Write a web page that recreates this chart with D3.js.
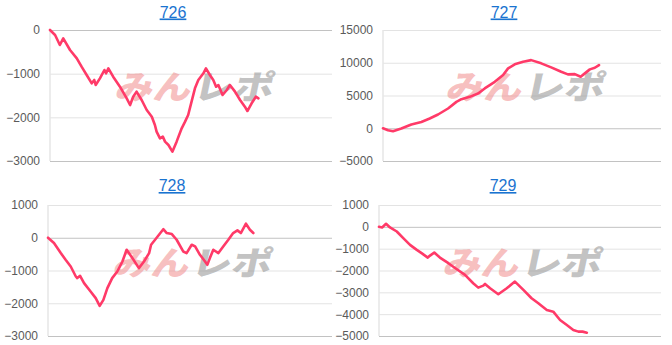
<!DOCTYPE html>
<html><head><meta charset="utf-8">
<script src="https://cdn.jsdelivr.net/npm/d3@7/dist/d3.min.js"></script>
<style>
html,body{margin:0;padding:0;background:#fff;}
svg{display:block;}
</style></head>
<body>
<svg id="c" width="672" height="345"></svg>
<script>
// ---- data ----
const titles = ["726", "727", "728", "729"];

// x = position along the play axis (0..100), y = cumulative difference
const x726 = [0,1.8,3.5,4.7,7.1,9.5,11.2,13.0,14.8,15.7,16.2,17.7,19.3,19.9,20.7,22.4,24.8,27.2,28.4,29.5,30.7,32.5,34.3,36.1,37.2,37.8,39.0,40.0,40.8,42.0,43.4,44.9,46.7,47.9,49.0,50.2,51.4,52.6,54.4,55.3,56.7,57.9,58.9,59.7,61.2,62.7,63.8,65.6,67.4,69.1,70.0,71.5,73.0,73.9];
const y726 = [0,-115,-343,-191,-458,-649,-840,-1030,-1221,-1145,-1260,-1107,-916,-992,-878,-1069,-1298,-1565,-1718,-1527,-1412,-1603,-1832,-1985,-2175,-2328,-2480,-2442,-2557,-2634,-2786,-2557,-2252,-2099,-1946,-1641,-1336,-1145,-992,-878,-1030,-1145,-1298,-1260,-1489,-1374,-1260,-1412,-1603,-1756,-1855,-1679,-1527,-1565];

const x727 = [0,1.8,3.6,6.6,10.2,13.8,16.8,19.8,23.4,26.4,28.2,31.2,34.2,36.6,40.2,43.2,45.0,47.4,50.4,53.3,56.9,60.5,64.1,66.5,69.0,71.1,72.6,74.4,76.2,77.7];
const y727 = [0,-306,-459,-46,566,965,1485,2098,3016,4027,4441,4793,5314,6079,7090,8116,9142,9755,10153,10400,9908,9296,8622,8224,8270,7856,8377,8989,9234,9648];

const x728 = [0,2.1,4.5,6.2,8.0,9.8,10.3,11.3,12.7,15.0,16.8,18.2,19.5,20.9,22.6,24.4,26.2,27.7,29.7,32.0,33.8,35.6,36.3,37.7,40.6,41.8,43.6,45.3,47.6,48.8,50.6,51.8,53.5,55.3,56.1,57.0,58.2,60.0,61.7,63.5,65.2,66.7,67.9,69.7,71.1,72.3];
const y728 = [0,-162,-468,-673,-878,-1183,-1232,-1162,-1386,-1642,-1844,-2080,-1896,-1539,-1232,-1030,-725,-367,-621,-927,-725,-468,-214,-60,260,144,113,-61,-419,-468,-214,-266,-520,-725,-826,-621,-367,-468,-266,-61,144,225,144,428,245,144];

const x729 = [0,1.1,2.5,3.9,6.3,8.6,11.0,13.4,15.1,17.3,18.1,19.6,21.6,24.6,27.6,30.5,33.4,35.2,37.0,37.6,39.4,42.3,45.3,48.2,51.2,54.1,56.5,59.5,61.8,64.2,66.6,68.9,70.7,72.2,73.7];
const y729 = [0,-30,138,-30,-214,-520,-826,-1055,-1206,-1408,-1316,-1179,-1408,-1665,-1940,-2202,-2583,-2785,-2693,-2615,-2812,-3087,-2812,-2509,-2890,-3270,-3500,-3807,-3885,-4266,-4495,-4725,-4800,-4800,-4850];

const ticks726 = [0, -1000, -2000, -3000];
const ticks727 = [15000, 10000, 5000, 0, -5000];
const ticks728 = [1000, 0, -1000, -2000, -3000];
const ticks729 = [1000, 0, -1000, -2000, -3000, -4000, -5000];

const watermarkPink = "みん";
const watermarkGray = "レポ";

// ---- layout ----
const panels = [
  {title: titles[0], xs: x726, ys: y726, ticks: ticks726, L: 50,  R: 332, T: 30,  B: 161, tx: 173, ty: 17.5, wx: 110, wy: 72},
  {title: titles[1], xs: x727, ys: y727, ticks: ticks727, L: 383, R: 661, T: 30,  B: 161, tx: 504, ty: 17.5, wx: 441, wy: 72},
  {title: titles[2], xs: x728, ys: y728, ticks: ticks728, L: 48,  R: 332, T: 205, B: 336, tx: 172, ty: 191, wx: 108, wy: 248},
  {title: titles[3], xs: x729, ys: y729, ticks: ticks729, L: 379, R: 661, T: 205, B: 336, tx: 503, ty: 191, wx: 438, wy: 248}
];

const svg = d3.select("#c");
const font = "'Liberation Sans', Arial, sans-serif";

panels.forEach(p => {
  const g = svg.append("g");
  const x = d3.scaleLinear().domain([0, 100]).range([p.L, p.R]);
  const y = d3.scaleLinear().domain([d3.min(p.ticks), d3.max(p.ticks)]).range([p.B, p.T]);

  // title
  g.append("text")
    .attr("x", p.tx).attr("y", p.ty)
    .attr("text-anchor", "middle")
    .attr("font-family", font).attr("font-size", 16)
    .attr("fill", "#1a73d0")
    .attr("text-decoration", "underline")
    .text(p.title);

  // axis with gridlines
  const ax = g.append("g")
    .attr("transform", `translate(${p.L},0)`)
    .call(d3.axisLeft(y).tickValues(p.ticks).tickSize(-(p.R - p.L)).tickPadding(10).tickFormat(d3.format("d")));
  ax.select(".domain").remove();
  ax.selectAll(".tick line")
    .attr("stroke", d => (d === 0 || d === d3.min(p.ticks)) ? "#c2c2c2" : "#e3e3e3")
    .attr("stroke-width", 1);
  ax.selectAll(".tick text")
    .attr("font-family", font).attr("font-size", 12)
    .attr("fill", "#5a5a5a");

  // left vertical axis line
  g.append("line")
    .attr("x1", p.L).attr("x2", p.L)
    .attr("y1", p.T).attr("y2", p.B)
    .attr("stroke", "#e6e6e6").attr("stroke-width", 1.5);

  // watermark
  const wm = g.append("g").attr("transform", `translate(${p.wx},${p.wy + 27}) skewX(-12)`);
  wm.append("text")
    .attr("x", 4).attr("y", 0)
    .attr("font-family", "'Noto Sans CJK JP', sans-serif")
    .attr("font-weight", "900").attr("font-size", 33)
    .attr("textLength", 76).attr("lengthAdjust", "spacingAndGlyphs")
    .attr("fill", "#f08a8a").attr("fill-opacity", 0.55)
    .text(watermarkPink);
  wm.append("text")
    .attr("x", 82).attr("y", 0)
    .attr("font-family", "'Noto Sans CJK JP', sans-serif")
    .attr("font-weight", "900").attr("font-size", 33)
    .attr("textLength", 80).attr("lengthAdjust", "spacingAndGlyphs")
    .attr("fill", "#9a9a9a").attr("fill-opacity", 0.6)
    .text(watermarkGray);

  // line
  const pts = p.xs.map((xv, i) => [xv, p.ys[i]]);
  g.append("path")
    .datum(pts)
    .attr("fill", "none")
    .attr("stroke", "#ff3a68")
    .attr("stroke-width", 2.6)
    .attr("stroke-linejoin", "round")
    .attr("stroke-linecap", "round")
    .attr("d", d3.line().x(d => x(d[0])).y(d => y(d[1])));
});
</script>
</body></html>
